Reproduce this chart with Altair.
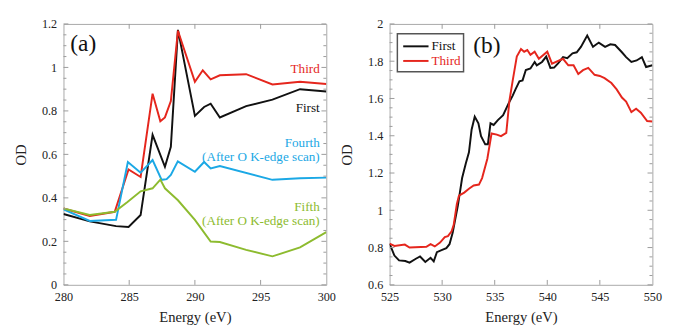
import altair as alt
import pandas as pd
import numpy as np

FONT = "Liberation Serif"
BLACK, RED, BLUE, GREEN = "#111111", "#e5261d", "#1ba8e5", "#8dbb2f"
FRAME = "#a8a8a8"
W, H = 270, 268

# ---------------- Panel (a): C K-edge ----------------
a_first_x = [280, 282.0, 284.0, 284.95, 285.87, 286.78, 287.72, 288.17, 288.71, 290.0, 290.7, 291.2, 291.9, 293.9, 295.9, 298.0, 300]
a_first_y = [0.326, 0.292, 0.270, 0.266, 0.321, 0.690, 0.543, 0.635, 1.173, 0.777, 0.818, 0.833, 0.770, 0.822, 0.852, 0.900, 0.889]

a_third_x = [280, 282.0, 283.9, 284.95, 285.87, 286.78, 287.37, 287.72, 288.17, 288.71, 290.0, 290.6, 291.2, 291.9, 293.9, 295.9, 298.0, 300]
a_third_y = [0.351, 0.317, 0.336, 0.531, 0.496, 0.879, 0.752, 0.770, 0.845, 1.169, 0.934, 0.987, 0.945, 0.964, 0.969, 0.922, 0.934, 0.924]

a_fourth_x = [280, 282.0, 284.0, 284.9, 285.87, 286.78, 287.47, 287.85, 288.17, 288.7, 290.0, 290.7, 291.2, 291.9, 295.9, 298.0, 300]
a_fourth_y = [0.347, 0.294, 0.299, 0.565, 0.516, 0.574, 0.483, 0.486, 0.505, 0.568, 0.520, 0.565, 0.535, 0.546, 0.483, 0.490, 0.493]

a_fifth_x = [280, 282.0, 283.9, 284.87, 285.87, 286.78, 287.37, 287.72, 288.17, 288.71, 290.0, 291.2, 291.9, 293.9, 295.9, 298.0, 300]
a_fifth_y = [0.351, 0.321, 0.336, 0.381, 0.430, 0.444, 0.484, 0.444, 0.419, 0.389, 0.299, 0.199, 0.197, 0.161, 0.131, 0.172, 0.242]

a_names = ["First", "Third", "Fourth", "Fifth"]
a_colors = [BLACK, RED, BLUE, GREEN]
a_x_ticks = [280, 285, 290, 295, 300]
a_y_ticks = [0, 0.2, 0.4, 0.6, 0.8, 1.0, 1.2]

a_ann_text = ["Third", "First", "Fourth", "(After O K-edge scan)", "Fifth", "(After O K-edge scan)"]
a_ann_series = ["Third", "First", "Fourth", "Fourth", "Fifth", "Fifth"]
a_ann_y = [0.994, 0.815, 0.650, 0.586, 0.357, 0.291]

# ---------------- Panel (b): O K-edge ----------------
b_first_x = [525, 525.46, 525.9, 526.5, 526.9, 527.5, 527.9, 528.4, 528.9, 529.2, 529.5, 530.0, 530.4, 530.7, 531.0, 531.5,
             531.9, 532.25, 532.55, 532.8, 533.1, 533.45, 533.7, 534.1, 534.35, 534.6, 534.9, 535.3, 535.8, 536.3, 536.7,
             537.0, 537.35, 537.65, 537.96, 538.4, 538.8, 539.0, 539.5, 539.9, 540.3, 540.65, 541.05, 541.5, 541.9, 542.4,
             542.8, 543.2, 543.8, 544.35, 544.9, 545.5, 546.0, 546.45, 547.1, 547.5, 548.0, 548.5, 549.0, 549.4, 550]
b_first_y = [0.821, 0.757, 0.731, 0.728, 0.719, 0.740, 0.752, 0.723, 0.745, 0.726, 0.775, 0.787, 0.797, 0.818, 0.879, 1.026,
             1.173, 1.251, 1.311, 1.432, 1.502, 1.467, 1.398, 1.354, 1.354, 1.467, 1.458, 1.484, 1.510, 1.571, 1.614,
             1.652, 1.692, 1.697, 1.753, 1.761, 1.796, 1.778, 1.796, 1.825, 1.764, 1.766, 1.790, 1.822, 1.816, 1.842,
             1.848, 1.877, 1.938, 1.877, 1.900, 1.877, 1.891, 1.887, 1.848, 1.822, 1.796, 1.804, 1.822, 1.769, 1.778]

b_third_x = [525, 525.46, 526.45, 526.9, 528.5, 528.9, 529.3, 529.8, 530.25, 530.55, 530.9, 531.1, 531.4, 531.6, 532.1,
             532.55, 533.0, 533.5, 533.8, 534.3, 534.7, 535.2, 535.6, 536.1, 536.4, 536.7, 537.1, 537.5, 537.8, 538.1,
             538.4, 538.8, 539.2, 540.0, 540.45, 541.5, 542.0, 542.5, 542.95, 543.4, 543.9, 544.5, 545.0, 545.45, 546.1,
             546.6, 547.1, 547.5, 548.0, 548.45, 548.9, 549.5, 550]
b_third_y = [0.821, 0.809, 0.816, 0.800, 0.804, 0.818, 0.806, 0.827, 0.856, 0.861, 0.887, 0.922, 1.034, 1.078, 1.095,
             1.116, 1.133, 1.138, 1.173, 1.277, 1.412, 1.406, 1.398, 1.415, 1.588, 1.692, 1.825, 1.865, 1.851, 1.860,
             1.834, 1.851, 1.813, 1.851, 1.787, 1.813, 1.778, 1.778, 1.731, 1.752, 1.764, 1.727, 1.721, 1.709, 1.683,
             1.649, 1.605, 1.583, 1.527, 1.545, 1.524, 1.479, 1.476]

b_names = ["First", "Third"]
b_colors = [BLACK, RED]
b_x_ticks = [525, 530, 535, 540, 545, 550]
b_y_ticks = [0.6, 0.8, 1.0, 1.2, 1.4, 1.6, 1.8, 2.0]


def long_df(names, xs_list, ys_list):
    rows = []
    for n, xs, ys in zip(names, xs_list, ys_list):
        for x, y in zip(xs, ys):
            rows.append({"series": n, "E": x, "OD": y})
    return pd.DataFrame(rows)


def panel(df, xdom, ydom, xticks, yticks, names, colors, label, extra_layers):
    xs = alt.Scale(domain=xdom, nice=False, zero=False)
    ys = alt.Scale(domain=ydom, nice=False, zero=False)
    cs = alt.Scale(domain=names, range=colors)
    xax = alt.Axis(values=xticks, ticks=False, domain=False, grid=False, format="~g", labelFlush=False,
                   labelFont=FONT, labelFontSize=12.5, labelColor="#222", labelPadding=6,
                   title="Energy (eV)", titleFont=FONT, titleFontSize=15, titleFontWeight="normal",
                   titleColor="#222", titlePadding=7)
    yax = alt.Axis(values=yticks, ticks=False, domain=False, grid=False, format="~g", labelFlush=False,
                   labelFont=FONT, labelFontSize=12.5, labelColor="#222", labelPadding=7,
                   title="OD", titleFont=FONT, titleFontSize=15, titleFontWeight="normal",
                   titleColor="#222", titlePadding=13)
    X = alt.X("E:Q", scale=xs, axis=xax)
    Y = alt.Y("OD:Q", scale=ys, axis=yax)

    step = 0.05
    minor = [round(v, 3) for v in np.arange(ydom[0], ydom[1] + 1e-9, step)]
    ymaj = pd.DataFrame({"OD": yticks})
    ymin = pd.DataFrame({"OD": [v for v in minor if all(abs(v - t) > 1e-6 for t in yticks)]})
    xmaj = pd.DataFrame({"E": xticks[1:-1]})

    tcol = "#9a9a9a"
    ticks = [
        alt.Chart(ymaj).mark_rule(color=tcol).encode(y=Y, x=alt.value(0), x2=alt.value(5)),
        alt.Chart(ymaj).mark_rule(color=tcol).encode(y=Y, x=alt.value(W - 5), x2=alt.value(W)),
        alt.Chart(ymin).mark_rule(color=tcol).encode(y=Y, x=alt.value(0), x2=alt.value(3)),
        alt.Chart(ymin).mark_rule(color=tcol).encode(y=Y, x=alt.value(W - 3), x2=alt.value(W)),
        alt.Chart(xmaj).mark_rule(color=tcol).encode(x=X, y=alt.value(H - 5), y2=alt.value(H)),
        alt.Chart(xmaj).mark_rule(color=tcol).encode(x=X, y=alt.value(0), y2=alt.value(5)),
    ]
    lines = alt.Chart(df).mark_line(strokeWidth=2, clip=True).encode(
        x=X, y=Y, color=alt.Color("series:N", scale=cs, legend=None)
    )
    lab = alt.Chart(pd.DataFrame({"t": [label["text"]]})).mark_text(
        align="left", baseline="middle", font=FONT, fontSize=24, color="#111"
    ).encode(text="t:N", x=alt.value(label["x"]), y=alt.value(label["y"]))
    layers = [lines] + ticks + [lab] + [l(X, Y, cs) for l in extra_layers]
    return alt.layer(*layers).properties(width=W, height=H)


# annotations for panel (a)
def a_annotations(X, Y, cs):
    d = pd.DataFrame({"E": [299.5] * len(a_ann_text), "OD": a_ann_y,
                      "label": a_ann_text, "series": a_ann_series})
    return alt.Chart(d).mark_text(align="right", baseline="middle", font=FONT, fontSize=13.5).encode(
        x=X, y=Y, text="label:N", color=alt.Color("series:N", scale=cs, legend=None))


# legend box for panel (b)
def b_legend_box(X, Y, cs):
    return alt.Chart(pd.DataFrame({"k": [1]})).mark_rect(
        fill="white", stroke="#555555", strokeWidth=1.5
    ).encode(x=alt.value(8), x2=alt.value(76), y=alt.value(10), y2=alt.value(49))


def b_legend_items(X, Y, cs):
    d = pd.DataFrame({"series": b_names, "ly": [23, 38]})
    rules = alt.Chart(d).mark_rule(strokeWidth=2).encode(
        x=alt.value(14), x2=alt.value(40), y=alt.Y("ly:Q", scale=None),
        color=alt.Color("series:N", scale=cs, legend=None))
    texts = alt.Chart(d).mark_text(align="left", baseline="middle", font=FONT, fontSize=13.5).encode(
        x=alt.value(43), y=alt.Y("ly:Q", scale=None), text="series:N",
        color=alt.Color("series:N", scale=cs, legend=None))
    return alt.layer(rules, texts)


df_a = long_df(a_names, [a_first_x, a_third_x, a_fourth_x, a_fifth_x],
               [a_first_y, a_third_y, a_fourth_y, a_fifth_y])
df_b = long_df(b_names, [b_first_x, b_third_x], [b_first_y, b_third_y])

pa = panel(df_a, [280, 300], [0, 1.2], a_x_ticks, a_y_ticks, a_names, a_colors,
           {"text": "(a)", "x": 7, "y": 21}, [a_annotations])
pb = panel(df_b, [525, 550], [0.6, 2.0], b_x_ticks, b_y_ticks, b_names, b_colors,
           {"text": "(b)", "x": 86, "y": 23}, [b_legend_box, b_legend_items])

chart = alt.hconcat(pa, pb, spacing=65, bounds="flush").properties(
    padding={"left": 5, "top": 5, "right": 5, "bottom": 0}
).configure(
    font=FONT, background="white",
    view=alt.ViewConfig(stroke=FRAME, strokeWidth=1),
)

chart.save("out.html", embed_options={"renderer": "svg", "actions": False})
